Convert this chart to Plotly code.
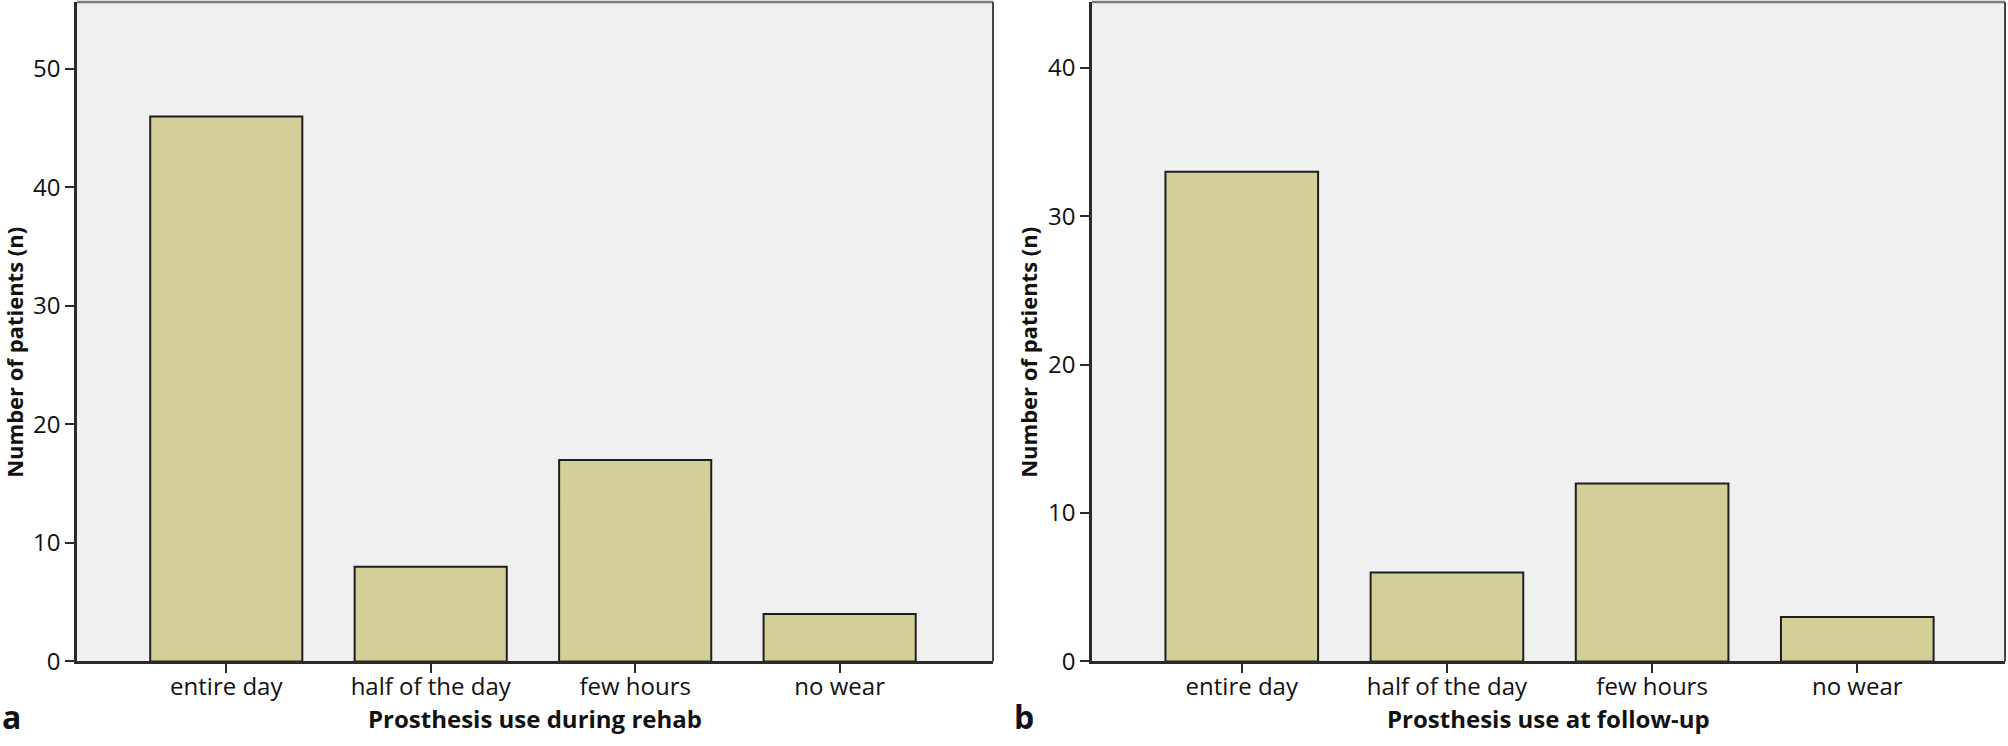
import plotly.graph_objects as go

categories = ["entire day", "half of the day", "few hours", "no wear"]
rehab_counts = [46, 8, 17, 4]
followup_counts = [33, 6, 12, 3]
left_yticks = [0, 10, 20, 30, 40, 50]
right_yticks = [0, 10, 20, 30, 40]

FONT = "Open Sans, Liberation Sans, sans-serif"
BAR_FILL = "#D4CF99"
BAR_LINE = "#1e1e1e"
PLOT_BG = "#F0F0F0"

W, H = 2008, 746

fig = go.Figure()
fig.add_trace(go.Bar(x=categories, y=rehab_counts, xaxis="x", yaxis="y",
                     marker=dict(color=BAR_FILL, line=dict(color=BAR_LINE, width=2)),
                     width=0.744, showlegend=False))
fig.add_trace(go.Bar(x=categories, y=followup_counts, xaxis="x2", yaxis="y2",
                     marker=dict(color=BAR_FILL, line=dict(color=BAR_LINE, width=2)),
                     width=0.744, showlegend=False))

y0 = (H - 675) / H
y1 = (H - 2) / H
xl = (77 / W, 993 / W)
xr = (1092 / W, 2005 / W)

axis_common = dict(showgrid=False, zeroline=False, showline=True, linecolor="#2a2a2a",
                   linewidth=2.5, ticks="outside", ticklen=9, tickwidth=2,
                   tickcolor="#2a2a2a", tickfont=dict(family=FONT, size=24, color="#111"))

fig.update_layout(
    width=W, height=H,
    margin=dict(l=0, r=0, t=0, b=0),
    paper_bgcolor="white", plot_bgcolor=PLOT_BG,
    xaxis=dict(domain=list(xl), anchor="y", type="category", range=[-0.73, 3.75],
               ticklabelstandoff=-7, **axis_common),
    yaxis=dict(domain=[y0, y1], anchor="x", range=[0, 55.66], tickvals=left_yticks, **axis_common),
    xaxis2=dict(domain=list(xr), anchor="y2", type="category", range=[-0.73, 3.72],
                ticklabelstandoff=-7, **axis_common),
    yaxis2=dict(domain=[y0, y1], anchor="x2", range=[0, 44.45], tickvals=right_yticks, **axis_common),
    font=dict(family=FONT, color="#111"),
)

# frame top/right
for xd, yd in (("x domain", "y domain"), ("x2 domain", "y2 domain")):
    fig.add_shape(type="line", xref=xd, yref=yd, x0=0, x1=1, y0=1, y1=1,
                  line=dict(color="#7a7a7a", width=2.5))
    fig.add_shape(type="line", xref=xd, yref=yd, x0=1, x1=1, y0=0, y1=1,
                  line=dict(color="#444444", width=2))

def ann(text, x, y, size, bold=True, angle=0, xanchor="center"):
    fig.add_annotation(text=f"<b>{text}</b>" if bold else text, x=x / W, y=1 - y / H,
                       xref="paper", yref="paper", showarrow=False, textangle=angle,
                       xanchor=xanchor, yanchor="middle",
                       font=dict(family=FONT, size=size, color="#111"))

ann("Number of patients (n)", 14, 360, 22, angle=-90)
ann("Number of patients (n)", 1028, 360, 22, angle=-90)
ann("Prosthesis use during rehab", 535, 733, 24)
ann("Prosthesis use at follow-up", 1548, 733, 24)
ann("a", 0, 731, 32, xanchor="left")
ann("b", 1012, 731, 32, xanchor="left")

fig.write_html(
    "out.html",
    config={"displayModeBar": False},
    post_script=(
        "var s=document.createElement('style');"
        "s.textContent='html,body{margin:0;padding:0;overflow:hidden;}';"
        "document.head.appendChild(s);"
    ),
)
